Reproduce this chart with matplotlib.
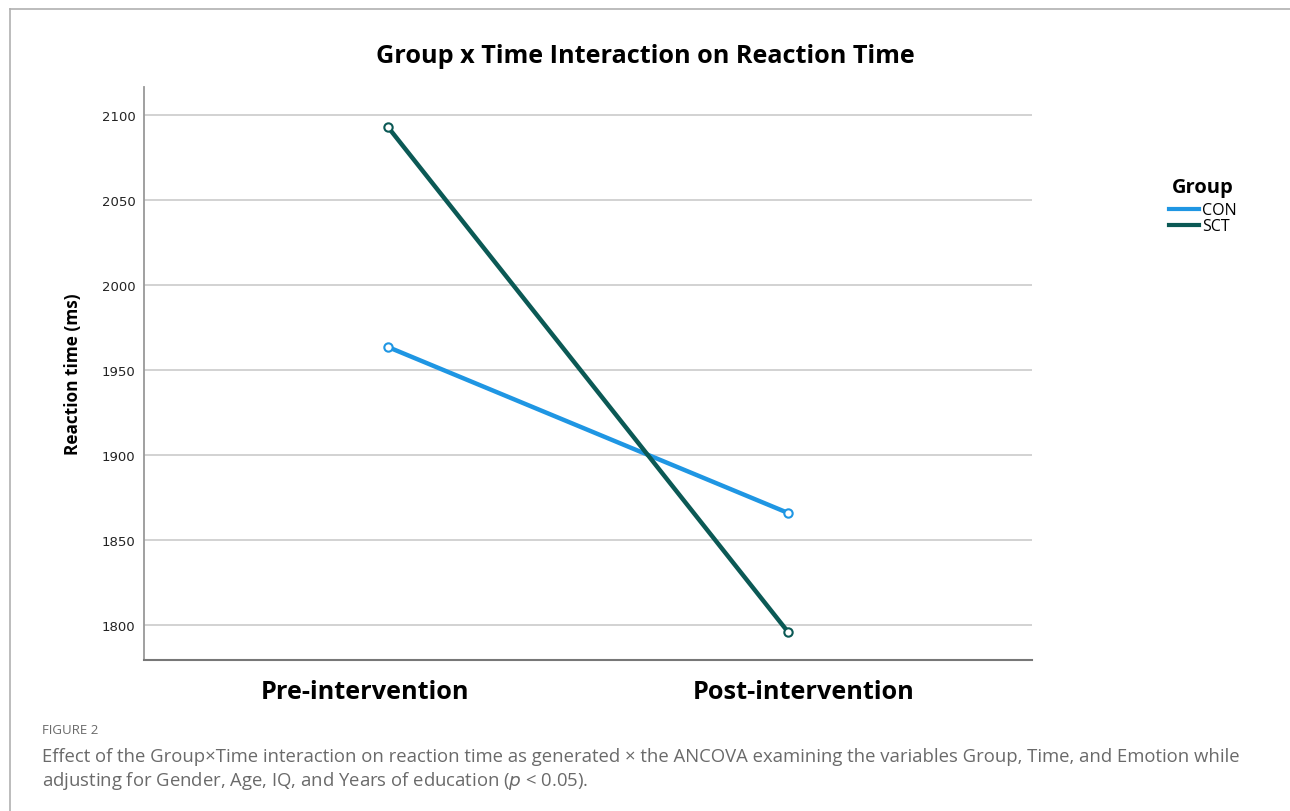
import matplotlib
matplotlib.use("Agg")
import matplotlib.pyplot as plt
import matplotlib.transforms as mtransforms
from matplotlib.lines import Line2D

times = ["Pre-intervention", "Post-intervention"]
groups = ["CON", "SCT"]
con_rt = [1963.5, 1865.9]
sct_rt = [2092.9, 1795.9]
yticks = [1800, 1850, 1900, 1950, 2000, 2050, 2100]

colors = {"CON": "#1f96e3", "SCT": "#0b5955"}

fig = plt.figure(figsize=(12.9, 8.12), dpi=100)
ax = fig.add_axes([0.1116, 0.1860, 0.6884, 0.7057])

x = list(range(len(times)))
for name, vals in zip(groups, [con_rt, sct_rt]):
    ax.plot(x, vals, color=colors[name], lw=3.2, marker="o", ms=6,
            mfc="white", mec=colors[name], mew=1.5, zorder=3)

ax.set_xlim(-0.61, 1.61)
ax.set_ylim(1779.4, 2116.5)
ax.set_yticks(yticks)
ax.set_yticklabels([str(v) for v in yticks], fontsize=9.5, family="DejaVu Sans",
                   color="#222222")
ax.set_xticks(x)
ax.set_xticklabels(times, fontsize=18.2, fontweight="bold", family="Open Sans")
ax.tick_params(axis="x", length=0, pad=14)
ax.tick_params(axis="y", length=0, pad=6)
# SPSS puts the category labels a little off the points
for lab, dx in zip(ax.get_xticklabels(), [-23, 16]):
    lab.set_transform(lab.get_transform() +
                      mtransforms.ScaledTranslation(dx / 100, 0, fig.dpi_scale_trans))
ax.yaxis.grid(True, color="#cfcfcf", lw=1.3)
ax.set_axisbelow(True)
for s in ["top", "right"]:
    ax.spines[s].set_visible(False)
ax.spines["left"].set_color("#999999")
ax.spines["left"].set_linewidth(1.3)
ax.spines["bottom"].set_color("#777777")
ax.spines["bottom"].set_linewidth(1.5)

ax.set_ylabel("Reaction time (ms)", fontsize=12.4, fontweight="bold",
              family="Open Sans", labelpad=14)

fig.text(0.5, 0.931, "Group x Time Interaction on Reaction Time",
         ha="center", va="center", fontsize=18.2, fontweight="bold",
         family="Open Sans")

# legend
handles = [Line2D([0], [0], color=colors[g], lw=3) for g in groups]
leg = fig.legend(handles, groups, loc="upper left",
                 bbox_to_anchor=(0.895, 0.799), frameon=False,
                 title="Group", fontsize=11.5, handlelength=1.9,
                 handletextpad=0.2, labelspacing=0.0)
plt.setp(leg.get_title(), fontweight="bold", fontsize=14.5, family="Open Sans")
for t in leg.get_texts():
    t.set_family("Open Sans")
leg._legend_box.sep = 4

# page frame of the screenshot
fig.add_artist(Line2D([10 / 1290, 1], [1 - 10 / 812, 1 - 10 / 812],
                      color="#b0b0b0", lw=1.2))
fig.add_artist(Line2D([10 / 1290, 10 / 1290], [0, 1 - 10 / 812],
                      color="#b0b0b0", lw=1.2))

fig.text(42 / 1290, 1 - 731 / 812, "FIGURE 2", fontsize=9.5, color="#6a6a6a",
         family="Open Sans", va="center")
fig.text(42 / 1290, 1 - 757 / 812,
         "Effect of the Group\u00d7Time interaction on reaction time as generated \u00d7 the ANCOVA "
         "examining the variables Group, Time, and Emotion while",
         fontsize=13.3, color="#6a6a6a", family="Open Sans", va="center")
fig.text(42 / 1290, 1 - 781 / 812,
         "adjusting for Gender, Age, IQ, and Years of education ($\\it{p}$ < 0.05).",
         fontsize=13.3, color="#6a6a6a", family="Open Sans", va="center")

fig.savefig("out.png", dpi=100)
